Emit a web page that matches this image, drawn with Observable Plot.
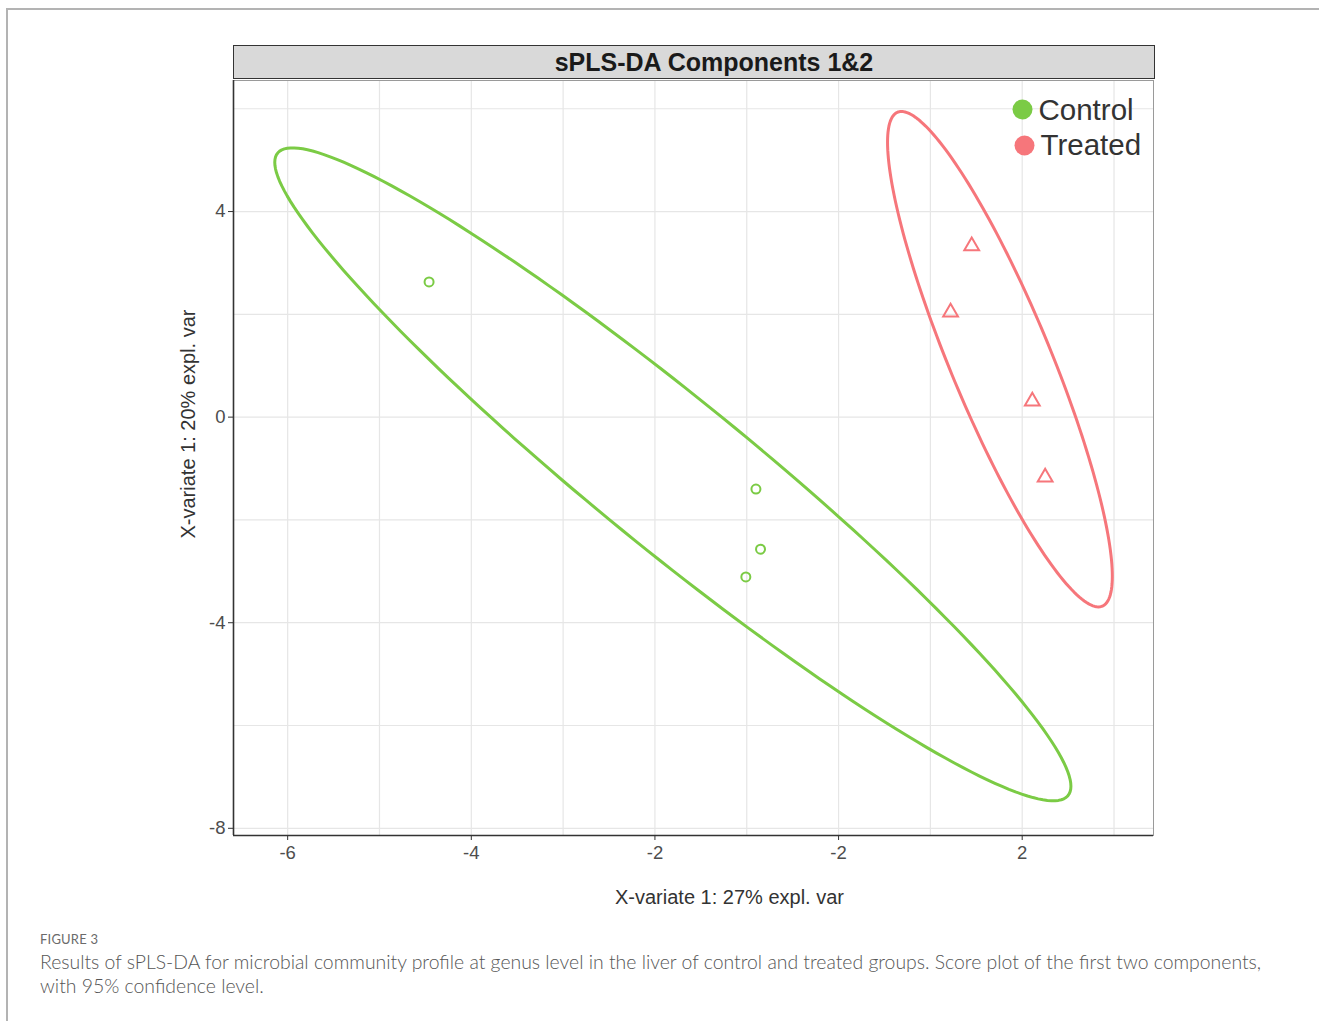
<!DOCTYPE html>
<html>
<head>
<meta charset="utf-8">
<script src="https://cdn.jsdelivr.net/npm/d3@7"></script>
<script src="https://cdn.jsdelivr.net/npm/@observablehq/plot@0.6"></script>
<style>
  html, body { margin: 0; padding: 0; background: #fff; }
  #page { position: relative; width: 1319px; height: 1021px; overflow: hidden; font-family: "Liberation Sans", Arial, sans-serif; }
  #edgeTop { position: absolute; left: 7px; top: 8px; width: 1312px; height: 2px; background: #b3b3b3; }
  #edgeLeft { position: absolute; left: 6px; top: 8px; width: 2px; height: 1013px; background: #b3b3b3; }
  #chart { position: absolute; left: 0; top: 0; }
  #strip { position: absolute; left: 233px; top: 45px; width: 920px; height: 32px; background: #d9d9d9; border: 1.5px solid #333; box-sizing: content-box;
           font: bold 25px "Liberation Sans", Arial, sans-serif; color: #1a1a1a; text-align: center; line-height: 32px; }
  #strip span { position: relative; left: 20px; }
  #figlabel { position: absolute; left: 40px; top: 931px; font: 13px Lato, "Open Sans", sans-serif; color: #6b6b6b; letter-spacing: 0.2px; }
  #caption { position: absolute; left: 40px; top: 950px; width: 1270px; font: 300 19.4px Lato, "Open Sans", sans-serif; color: #555; line-height: 24px; white-space: nowrap; }
</style>
</head>
<body>
<div id="page">
  <div id="edgeTop"></div>
  <div id="edgeLeft"></div>
  <div id="chart"></div>
  <div id="strip"><span>sPLS-DA Components 1&amp;2</span></div>
  <div id="figlabel">FIGURE 3</div>
  <div id="caption">Results of sPLS-DA for microbial community profile at genus level in the liver of control and treated groups. Score plot of the first two components,<br>with 95% confidence level.</div>
</div>
<script>
// ---- data ----
const groups = ["Control", "Treated"];
const groupColors = ["#7bcb45", "#f6767b"];
const controlX = [-4.46, -0.90, -0.85, -1.01];
const controlY = [2.63, -1.40, -2.57, -3.11];
const treatedX = [1.45, 1.22, 2.11, 2.25];
const treatedY = [3.33, 2.04, 0.31, -1.17];
const xTicks = [-6, -4, -2, 0, 2];
const xTickLabels = ["-6", "-4", "-2", "-2", "2"];
const yTicks = [-8, -4, 0, 4];
const yTickLabels = ["-8", "-4", "0", "4"];
const xDomain = [-6.59, 3.43];
const yDomain = [-8.14, 6.55];
const xLabel = "X-variate 1: 27% expl. var";
const yLabel = "X-variate 1: 20% expl. var";
const confLevel = 0.95;

// ---- build tables ----
const points = [
  ...controlX.map((x, i) => ({group: "Control", x, y: controlY[i]})),
  ...treatedX.map((x, i) => ({group: "Treated", x, y: treatedY[i]}))
];

// 95% confidence ellipse from each group's covariance (chi-square radius)
function ellipse(xs, ys, group) {
  const n = xs.length;
  const mx = d3.mean(xs), my = d3.mean(ys);
  let sxx = 0, syy = 0, sxy = 0;
  for (let i = 0; i < n; i++) {
    sxx += (xs[i] - mx) ** 2; syy += (ys[i] - my) ** 2; sxy += (xs[i] - mx) * (ys[i] - my);
  }
  sxx /= n - 1; syy /= n - 1; sxy /= n - 1;
  const t = Math.sqrt(-2 * Math.log(1 - confLevel));
  const l11 = Math.sqrt(sxx), l21 = sxy / l11, l22 = Math.sqrt(syy - l21 * l21);
  const out = [];
  for (let k = 0; k <= 200; k++) {
    const a = (k / 200) * 2 * Math.PI;
    const c = Math.cos(a), s = Math.sin(a);
    out.push({group, x: mx + t * l11 * c, y: my + t * (l21 * c + l22 * s)});
  }
  return out;
}
const ellipses = [...ellipse(controlX, controlY, "Control"), ...ellipse(treatedX, treatedY, "Treated")];

const plot = Plot.plot({
  width: 1319,
  height: 920,
  marginLeft: 233,
  marginRight: 166,
  marginTop: 80,
  marginBottom: 85,
  style: {fontFamily: "'Liberation Sans', Arial, sans-serif", background: "transparent"},
  x: {domain: xDomain, label: null},
  y: {domain: yDomain, label: null},
  color: {domain: groups, range: groupColors},
  marks: [
    Plot.gridX({ticks: d3.range(-6, 4), stroke: "#e6e6e6", strokeOpacity: 1, strokeWidth: 1.2}),
    Plot.gridY({ticks: d3.range(-8, 7, 2), stroke: "#e6e6e6", strokeOpacity: 1, strokeWidth: 1.2}),
    Plot.frame({stroke: "#9a9a9a", strokeWidth: 1}),
    Plot.ruleX([xDomain[0]], {stroke: "#333", strokeWidth: 1.6}),
    Plot.ruleY([yDomain[0]], {stroke: "#333", strokeWidth: 1.6}),
    Plot.axisX({ticks: xTicks, tickFormat: d => xTickLabels[xTicks.indexOf(d)], tickSize: 5, tickPadding: 5, fontSize: 18.5, color: "#4d4d4d", stroke: "#333", label: null}),
    Plot.axisY({ticks: yTicks, tickFormat: d => yTickLabels[yTicks.indexOf(d)], tickSize: 5, tickPadding: 3, fontSize: 18.5, color: "#4d4d4d", stroke: "#333", label: null}),
    Plot.line(ellipses, {x: "x", y: "y", z: "group", stroke: "group", strokeWidth: 3, curve: "linear"}),
    Plot.dot(points.filter(d => d.group === "Control"), {x: "x", y: "y", stroke: "group", r: 4.5, strokeWidth: 2, symbol: "circle"}),
    Plot.dot(points.filter(d => d.group === "Treated"), {x: "x", y: "y", stroke: "group", r: 5.5, strokeWidth: 2, symbol: "triangle"}),
    // legend
    Plot.dot([groups[0]], {frameAnchor: "top-right", dx: -131, dy: 29, fill: d => d, r: 10}),
    Plot.dot([groups[1]], {frameAnchor: "top-right", dx: -129, dy: 65, fill: d => d, r: 10}),
    Plot.text([groups[0]], {frameAnchor: "top-right", dx: -115, dy: 30, text: d => d, textAnchor: "start", lineAnchor: "middle", fontSize: 29.5, fill: "#333"}),
    Plot.text([groups[1]], {frameAnchor: "top-right", dx: -113, dy: 65, text: d => d, textAnchor: "start", lineAnchor: "middle", fontSize: 29.5, fill: "#333"}),
    // axis titles
    Plot.text([xLabel], {frameAnchor: "bottom", dx: 36, dy: 62, text: d => d, textAnchor: "middle", lineAnchor: "middle", fontSize: 20, fill: "#333"}),
    Plot.text([yLabel], {frameAnchor: "left", dx: -45, dy: -34, rotate: -90, text: d => d, textAnchor: "middle", lineAnchor: "middle", fontSize: 20, fill: "#333"})
  ]
});
document.getElementById("chart").appendChild(plot);
</script>
</body>
</html>
